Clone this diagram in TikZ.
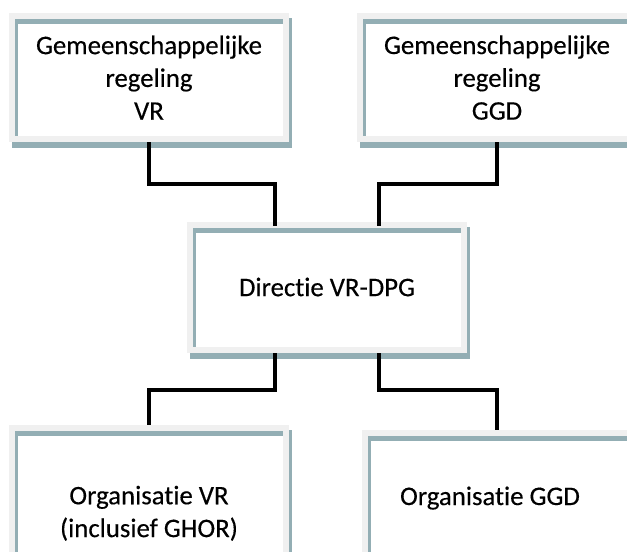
\documentclass[tikz,border=0pt]{standalone}
\usepackage{fontspec}
\setmainfont{Carlito}[Ligatures={NoCommon}, FakeBold=0.3]
\usetikzlibrary{fit,calc}
\definecolor{framegray}{HTML}{F0F0F0}
\definecolor{steel}{HTML}{93AEB4}
\newcommand{\panelbox}[5]{% name x1 y1 x2 y2
  \fill[steel] (#2+3,#3+5) rectangle (#4+3,#5+6);
  \fill[framegray] (#2,#3) rectangle (#4,#5);
  \fill[white] (#2+6,#3+6) rectangle (#4-6,#5-6);
  \fill[steel] (#2+6,#3+6) rectangle (#4-6,#3+11);
  \fill[steel] (#2+6,#3+6) rectangle (#2+9,#5-6);
  \coordinate (#1-nw) at (#2,#3);
  \coordinate (#1-se) at (#4,#5);
  \node[inner sep=0pt, fit=(#1-nw)(#1-se)] (#1) {};
}
\begin{document}
\begin{tikzpicture}[x=0.75pt, y=-0.75pt,
  conn/.style={line width=3pt, black, line join=miter},
  txt/.style={font=\fontsize{20.1pt}{24.6pt}\selectfont, align=center, inner sep=0pt}]
\useasboundingbox (0,0) rectangle (627,551);
\clip (0,0) rectangle (627,551);
\fill[white] (0,0) rectangle (627,551);
% panels
\panelbox{grvr}{9}{13}{289}{142}
\panelbox{grggd}{357}{13}{637}{142}
\panelbox{dir}{187}{222}{467}{353}
\panelbox{orgvr}{9}{425}{289}{595}
\panelbox{orgggd}{362}{430}{642}{600}
% texts
\node[txt] (t1) at (149,77.6) {Gemeenschappelijke\\regeling\\VR};
\node[txt] (t2) at (497,77.6) {Gemeenschappelijke\\regeling\\GGD};
\node[txt] (t3) at (327,287) {Directie VR-DPG};
\node[txt] (t4) at (149,513.3) {Organisatie VR\\(inclusief GHOR)};
\node[txt, anchor=base] (t5) at (490,505) {Organisatie GGD};
% connectors
\draw[conn] (grvr.south) -- ++(0,42) -| ($(dir.north west)+(88,4)$);
\draw[conn] (grggd.south) -- ++(0,42) -| ($(dir.north west)+(192,4)$);
\draw[conn] ($(dir.south west)+(88,0)$) -- ++(0,37) -| (orgvr.north);
\draw[conn] ($(dir.south west)+(192,0)$) -- ++(0,37) -| ($(orgggd.north west)+(135,0)$);
\end{tikzpicture}
\end{document}
